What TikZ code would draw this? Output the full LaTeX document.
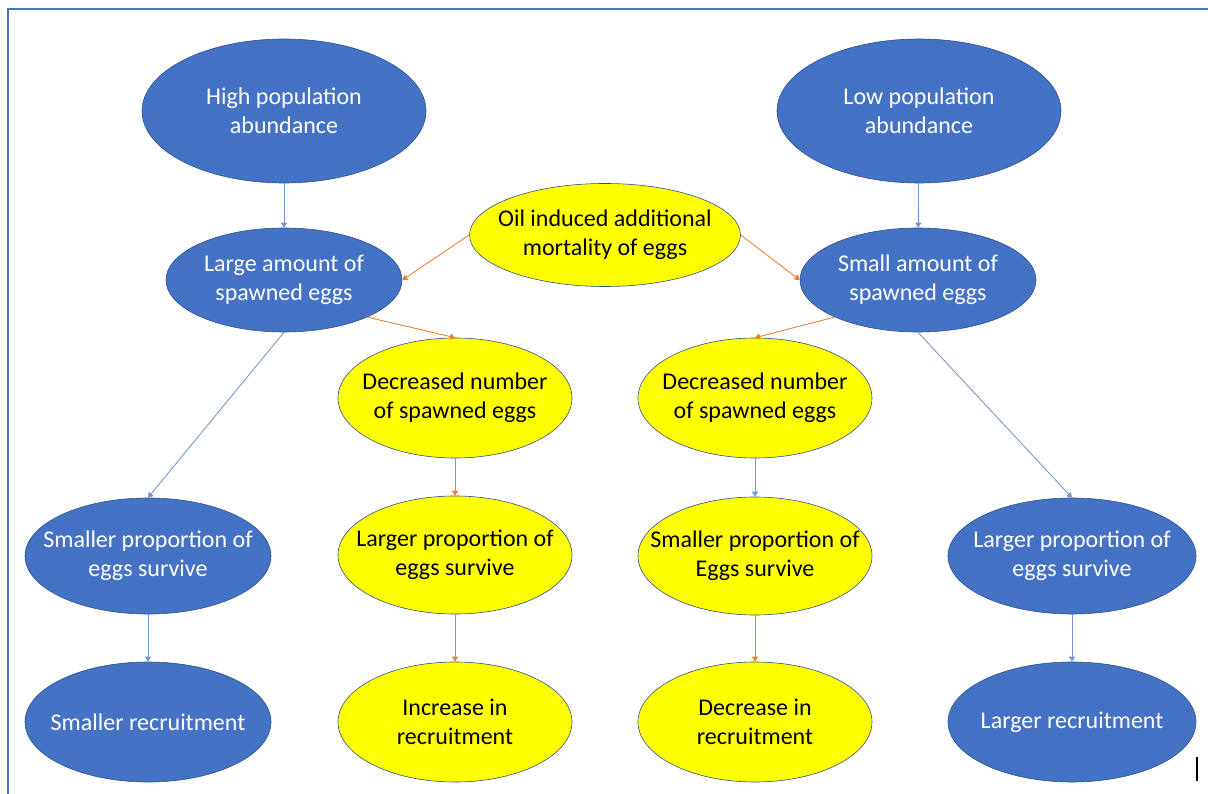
\documentclass[tikz,border=0pt]{standalone}
\usepackage{fontspec}
\setmainfont{Carlito}
\usetikzlibrary{shapes.geometric,arrows.meta}
\definecolor{pblue}{HTML}{4472C4}
\definecolor{pedge}{HTML}{2F528F}
\definecolor{pyellow}{HTML}{FFFF00}
\definecolor{porange}{HTML}{ED7D31}
\begin{document}
\begin{tikzpicture}[x=1pt,y=-1pt,
  blob/.style 2 args={ellipse, draw=pedge, line width=0.6pt, inner sep=0pt,
    minimum width=#1, minimum height=#2},
  bluebox/.style 2 args={blob={#1}{#2}, fill=pblue},
  yelbox/.style 2 args={blob={#1}{#2}, fill=pyellow},
  wtxt/.style={text=white, align=center, font=\fontsize{24}{29}\selectfont},
  btxt/.style={text=black, align=center, font=\fontsize{24}{29}\selectfont},
  link/.style={line width=0.8pt, -{Triangle[width=6pt,length=5pt]}},
  bl/.style={link, draw=pblue!75, fill=pblue!75},
  ol/.style={link, draw=porange, fill=porange}]
\useasboundingbox (0,0) rectangle (1208,794);
\fill[white] (0,0) rectangle (1208,794);
% frame
\draw[pblue, line width=2pt] (8,794) -- (8,9) -- (1208,9);

% top row
\node[bluebox={284}{144}] (high) at (284,111) {};
\node[wtxt] at (high.center) {High population\\abundance};
\node[bluebox={284}{144}] (low) at (919,111) {};
\node[wtxt] at (low.center) {Low population\\abundance};
\node[yelbox={271}{103}] (oil) at (605,235) {};
\node[btxt] at (oil.center) {Oil induced additional\\mortality of eggs};

% spawned eggs
\node[bluebox={236}{104}] (large) at (284,280) {};
\node[wtxt] at (large.center) {Large amount of\\spawned eggs};
\node[bluebox={236}{104}] (small) at (918,280) {};
\node[wtxt] at (small.center) {Small amount of\\spawned eggs};
\node[yelbox={234}{120}] (decL) at (455,398) {};
\node[btxt] at (decL.center) {Decreased number\\of spawned eggs};
\node[yelbox={234}{120}] (decR) at (755,398) {};
\node[btxt] at (decR.center) {Decreased number\\of spawned eggs};

% survival
\node[bluebox={246}{116}] (survA) at (148,556) {};
\node[wtxt] at (survA.center) {Smaller proportion of\\eggs survive};
\node[yelbox={234}{118}] (survB) at (455,555) {};
\node[btxt] at (survB.center) {Larger proportion of\\eggs survive};
\node[yelbox={234}{118}] (survC) at (755,556) {};
\node[btxt] at (survC.center) {Smaller proportion of\\Eggs survive};
\node[bluebox={248}{116}] (survD) at (1072,556) {};
\node[wtxt] at (survD.center) {Larger proportion of\\eggs survive};

% recruitment
\node[bluebox={246}{120}] (recA) at (148,722) {};
\node[wtxt] at (recA.center) {Smaller recruitment};
\node[yelbox={234}{120}] (recB) at (455,722) {};
\node[btxt] at (recB.center) {Increase in\\recruitment};
\node[yelbox={234}{120}] (recC) at (755,722) {};
\node[btxt] at (recC.center) {Decrease in\\recruitment};
\node[bluebox={248}{120}] (recD) at (1072,722) {};
\node[wtxt] at (recD.center) {Larger recruitment};

% connectors
\draw[bl] (high) -- (large);
\draw[bl] (low) -- (small);
\draw[ol] (oil.west) -- (large.east);
\draw[ol] (oil.east) -- (small.west);
\draw[ol] (large.-24) -- (decL.north);
\draw[ol] (small.-156) -- (decR.north);
\draw[bl] (large.south) -- (survA.north);
\draw[bl] (small.south) -- (survD.north);
\draw[ol] (decL) -- (survB);
\draw[bl] (decR) -- (survC);
\draw[bl] (survA) -- (recA);
\draw[ol] (survB) -- (recB);
\draw[ol] (survC) -- (recC);
\draw[bl] (survD) -- (recD);

% text cursor mark
\coordinate (cur) at (1197,757);
\draw[black, line width=1.3pt] (cur) -- ++(0,24);
\end{tikzpicture}
\end{document}
